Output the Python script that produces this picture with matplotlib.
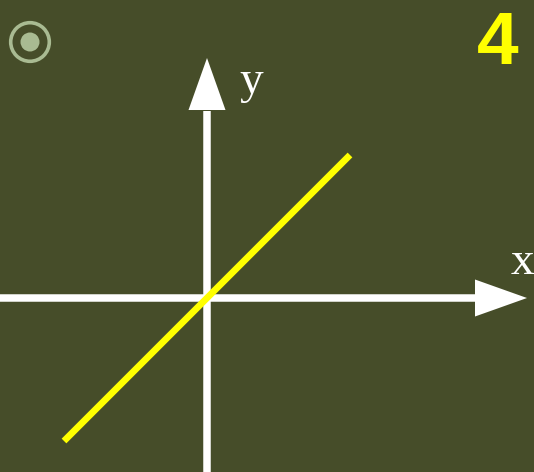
import matplotlib
matplotlib.use('Agg')
import matplotlib.pyplot as plt
from matplotlib.patches import Circle, Polygon

# data: the plotted line y = x
line_x = [-1.0, 1.0]
line_y = [-1.0, 1.0]
axis_labels = ['x', 'y']
slide_number = '4'

BG = '#464d29'
YELLOW = '#ffff00'
ICON = '#a9bb92'

W, H = 534, 472
U = 143.0          # pixels per data unit
OX, OY = 207, 298  # origin position in pixels (from top-left)


def px(x, y):
    # pixel (from top-left) -> data coords
    return (x - OX) / U, (OY - y) / U


fig = plt.figure(figsize=(W / 100, H / 100), dpi=100, facecolor=BG)
ax = fig.add_axes([0, 0, 1, 1])
ax.set_facecolor(BG)
ax.set_xlim(px(0, 0)[0], px(W, 0)[0])
ax.set_ylim(px(0, H)[1], px(0, 0)[1])
ax.axis('off')

# axes with arrow heads
x0, _ = px(0, 0)
xb, _ = px(475, 0)
xt, _ = px(527, 0)
_, yb = px(0, 110)
_, yt = px(0, 58)
_, ybot = px(0, H)
hw = 18.5 / U
ax.plot([x0, xb + 0.01], [0, 0], color='white', lw=5.4, solid_capstyle='butt', zorder=2)
ax.plot([0, 0], [ybot, yb - 0.01], color='white', lw=5.4, solid_capstyle='butt', zorder=2)
ax.add_patch(Polygon([[xb, -hw], [xb, hw], [xt, 0]], closed=True, color='white', lw=0, zorder=2))
ax.add_patch(Polygon([[-hw, yb], [hw, yb], [0, yt]], closed=True, color='white', lw=0, zorder=2))

# the line
ax.plot(line_x, line_y, color=YELLOW, lw=4.8, solid_capstyle='butt', zorder=3)

# axis labels
lx, ly = px(511, 274)
ax.text(lx, ly, axis_labels[0], color='white', fontsize=34, family='Liberation Serif',
        ha='left', va='baseline')
lx, ly = px(239, 93)
ax.text(lx, ly, axis_labels[1], color='white', fontsize=34, family='Liberation Serif',
        ha='left', va='baseline')

# slide number
nx, ny = px(477, 63.5)
ax.text(nx, ny, slide_number, color=YELLOW, fontsize=54, family='Liberation Sans',
        fontweight='bold', ha='left', va='baseline')

# radio icon
cx, cy = px(30, 42)
ax.add_patch(Circle((cx, cy), 19.3 / U, fill=False, ec=ICON, lw=2.6))
ax.add_patch(Circle((cx, cy), 9.5 / U, color=ICON, lw=0))

fig.savefig('out.png', dpi=100, facecolor=BG)
